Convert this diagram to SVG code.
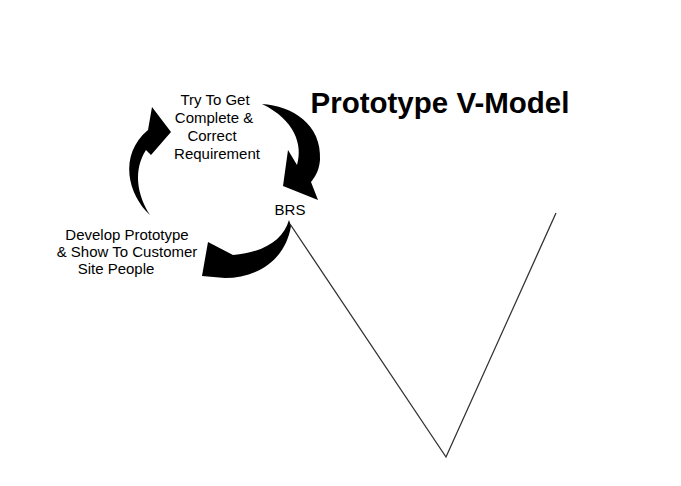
<svg xmlns="http://www.w3.org/2000/svg" width="681" height="486" viewBox="0 0 681 486">
<style>
.t{font-family:"Liberation Sans",Arial,sans-serif;font-size:15px;fill:#000;text-anchor:middle}
.title{font-family:"Liberation Sans",Arial,sans-serif;font-size:29.5px;font-weight:bold;fill:#000;text-anchor:middle}
.arr{fill:#000;stroke:none}
.v{fill:none;stroke:#333;stroke-width:1.3}
</style>
<rect width="681" height="486" fill="#fff"/>
<text class="title" x="440" y="113">Prototype V-Model</text>
<g id="node-requirement">
<text class="t" x="215" y="105">Try To Get</text>
<text class="t" x="214" y="123">Complete &amp;</text>
<text class="t" x="212" y="141">Correct</text>
<text class="t" x="217" y="159">Requirement</text>
</g>
<g id="node-brs">
<text class="t" x="290" y="215">BRS</text>
</g>
<g id="node-prototype">
<text class="t" x="127" y="240">Develop Prototype</text>
<text class="t" x="127" y="257">&amp; Show To Customer</text>
<text class="t" x="116" y="274">Site People</text>
</g>
<g id="connectors">
<path class="arr" d="M150,215 C128,195 118,155 148,130 L152,107 L171,132 L151,155 L146,150 C133,170 137,195 150,215 Z"/>
<path class="arr" d="M262,104 C292,106 322,124 320,160 C319,172 314,178 311,182 L318,200 L283,186 L288,150 L297,165 C303,145 295,120 262,104 Z"/>
<path class="arr" d="M289,220 C283,240 265,252 233,255 L208,242 L202,276 L225,278 C255,278 285,262 291,226 Z"/>
<polyline class="v" points="290,224 446,457 556,213"/>
</g>
</svg>
